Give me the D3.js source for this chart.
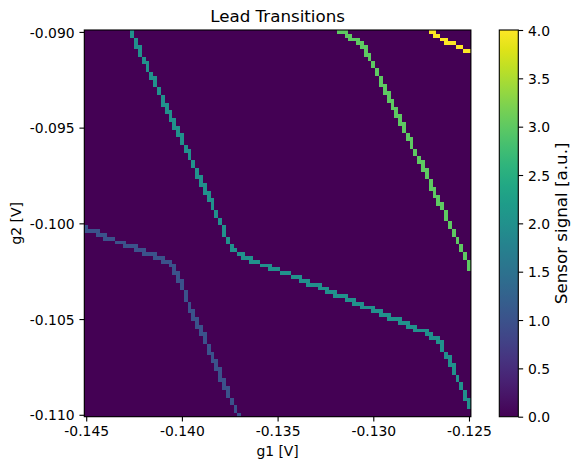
<!DOCTYPE html>
<html>
<head>
<meta charset="utf-8">
<script src="https://cdn.jsdelivr.net/npm/d3@7"></script>
<style>
  body { margin: 0; background: #fff; }
  text { font-family: "DejaVu Sans", sans-serif; fill: #000; }
</style>
</head>
<body>
<div id="chart"></div>
<script>
var w = 580,
    h = 470;

// gate sweep: 101 x 101 points, 0.2 mV steps
var g1Start = -0.145,
    g2Start = -0.090,   // top row
    step = 0.0002,
    nSteps = 101;

var xTicks = [-0.145, -0.140, -0.135, -0.130, -0.125];
var yTicks = [-0.090, -0.095, -0.100, -0.105, -0.110];
var cbTicks = [0, 0.5, 1, 1.5, 2, 2.5, 3, 3.5, 4];
var levels = [1, 2, 3, 4];

// transition lines, as runs of pixels:
// [g1 step first, g1 step last, g2 step first, g2 step last]
// g1 steps counted from -0.145, g2 steps counted down from -0.090
var line1Runs = [
    [0, 0, 51, 51], [0, 3, 52, 52], [3, 5, 53, 53], [5, 7, 54, 54], [8, 10, 55, 55],
    [10, 13, 56, 56], [13, 15, 57, 57], [15, 18, 58, 58], [18, 20, 59, 59], [20, 22, 60, 60],
    [22, 23, 61, 61], [23, 23, 62, 63], [24, 24, 63, 65], [25, 25, 65, 67], [26, 26, 68, 70],
    [27, 27, 71, 73], [28, 28, 73, 75], [29, 29, 75, 77], [30, 30, 77, 79], [31, 31, 79, 81],
    [32, 32, 82, 84], [33, 33, 84, 86], [34, 34, 86, 88], [35, 35, 88, 91], [36, 36, 91, 93],
    [37, 37, 93, 95], [38, 38, 96, 97], [39, 39, 98, 99], [40, 40, 100, 100]
];
var line2Runs = [
    [12, 12, 0, 1], [13, 13, 2, 4], [14, 14, 4, 6], [15, 15, 7, 8], [16, 16, 8, 10],
    [17, 17, 11, 12], [18, 18, 12, 14], [19, 19, 15, 16], [20, 20, 17, 19], [21, 21, 19, 21],
    [22, 22, 21, 23], [23, 23, 23, 25], [24, 24, 25, 27], [25, 25, 27, 29], [26, 26, 30, 31],
    [27, 27, 31, 33], [28, 28, 34, 35], [29, 29, 36, 38], [30, 30, 38, 40], [31, 31, 40, 42],
    [32, 32, 42, 44], [33, 33, 44, 46], [34, 34, 47, 48], [35, 35, 49, 50], [36, 36, 51, 53],
    [37, 37, 54, 55], [38, 38, 56, 57], [39, 39, 57, 57],
    [40, 41, 58, 58], [41, 43, 59, 59], [43, 45, 60, 60], [46, 48, 61, 61], [48, 50, 62, 62],
    [51, 53, 63, 63], [54, 56, 64, 64], [56, 58, 65, 65], [58, 61, 66, 66], [61, 63, 67, 67],
    [63, 65, 68, 68], [65, 68, 69, 69], [68, 70, 70, 70], [70, 72, 71, 71], [72, 75, 72, 72],
    [75, 77, 73, 73], [77, 79, 74, 74], [79, 82, 75, 75], [82, 84, 76, 76], [84, 86, 77, 77],
    [86, 89, 78, 78], [89, 90, 79, 79], [90, 92, 80, 80], [92, 93, 81, 81],
    [93, 93, 82, 83], [94, 94, 84, 85], [95, 95, 85, 87], [96, 96, 87, 89], [97, 97, 90, 91],
    [98, 98, 92, 93], [99, 99, 94, 96], [100, 100, 96, 98]
];
var line3Runs = [
    [66, 68, 0, 0], [68, 69, 1, 1], [69, 71, 2, 2], [71, 72, 3, 3], [72, 73, 4, 4],
    [73, 73, 5, 6], [74, 74, 6, 7], [75, 75, 8, 9], [76, 76, 10, 11], [77, 77, 12, 14],
    [78, 78, 14, 16], [79, 79, 16, 18], [80, 80, 18, 20], [81, 81, 20, 22], [82, 82, 22, 24],
    [83, 83, 24, 26], [84, 84, 27, 28], [85, 85, 28, 30], [86, 86, 31, 32], [87, 87, 33, 34],
    [88, 88, 34, 36], [89, 89, 36, 38], [90, 90, 39, 41], [91, 91, 41, 43], [92, 92, 43, 45],
    [93, 93, 45, 46], [94, 94, 47, 49], [95, 95, 50, 51], [96, 96, 52, 53], [97, 97, 54, 55],
    [98, 98, 56, 57], [99, 99, 58, 59], [100, 100, 60, 62]
];
var line4Runs = [
    [90, 91, 0, 0], [91, 92, 1, 1], [93, 94, 2, 2], [94, 96, 3, 3], [97, 98, 4, 4], [99, 100, 5, 5]
];
var lineRuns = [line1Runs, line2Runs, line3Runs, line4Runs];

// build the full sensor map (0 everywhere except on the transitions)
var cells = [];
for (var r = 0; r < nSteps; r++) {
    for (var c = 0; c < nSteps; c++) {
        cells.push({ i: c, j: r, v: 0 });
    }
}
lineRuns.forEach(function(runs, k) {
    runs.forEach(function(run) {
        for (var j = run[2]; j <= run[3]; j++) {
            for (var i = run[0]; i <= run[1]; i++) {
                cells[j * nSteps + i].v = levels[k];
            }
        }
    });
});

var margin = { left: 84.3, top: 30, right: 470.9, bottom: 416.7 };

var x = d3.scaleLinear()
    .domain([g1Start - step / 2, g1Start + (nSteps - 1) * step + step / 2])
    .range([margin.left, margin.right]);
var y = d3.scaleLinear()
    .domain([g2Start - (nSteps - 1) * step - step / 2, g2Start + step / 2])
    .range([margin.bottom, margin.top]);
var color = d3.scaleSequential(d3.interpolateViridis).domain([0, 4]);

var svg = d3.select("#chart").append("svg")
    .attr("width", w)
    .attr("height", h);

svg.append("g")
    .attr("shape-rendering", "crispEdges")
    .selectAll("rect")
    .data(cells)
    .enter().append("rect")
    .attr("x", function(d) { return x(g1Start + d.i * step - step / 2); })
    .attr("y", function(d) { return y(g2Start - d.j * step + step / 2); })
    .attr("width", function(d) { return x(g1Start + d.i * step + step / 2) - x(g1Start + d.i * step - step / 2); })
    .attr("height", function(d) { return y(g2Start - d.j * step - step / 2) - y(g2Start - d.j * step + step / 2); })
    .style("fill", function(d) { return color(d.v); });

// axes
var tickLen = 4.86, fs = 13.9;
var xAxis = svg.append("g")
    .attr("transform", "translate(0," + margin.bottom + ")")
    .call(d3.axisBottom(x).tickValues(xTicks).tickSize(tickLen).tickPadding(tickLen)
        .tickFormat(function(d) { return d.toFixed(3); }));
var yAxis = svg.append("g")
    .attr("transform", "translate(" + margin.left + ",0)")
    .call(d3.axisLeft(y).tickValues(yTicks).tickSize(tickLen).tickPadding(tickLen)
        .tickFormat(function(d) { return d.toFixed(3); }));
[xAxis, yAxis].forEach(function(a) {
    a.select(".domain").remove();
    a.selectAll("line").attr("stroke", "#000").attr("stroke-width", 1.1);
    a.selectAll("text").style("font-size", fs + "px").attr("fill", "#000");
});
yAxis.selectAll("text").attr("dy", "0.37em");

svg.append("rect")
    .attr("x", margin.left).attr("y", margin.top)
    .attr("width", margin.right - margin.left)
    .attr("height", margin.bottom - margin.top)
    .attr("fill", "none").attr("stroke", "#000").attr("stroke-width", 1.1);

svg.append("text")
    .attr("x", (margin.left + margin.right) / 2).attr("y", 21.7)
    .attr("text-anchor", "middle").style("font-size", "16.7px")
    .text("Lead Transitions");
svg.append("text")
    .attr("x", (margin.left + margin.right) / 2).attr("y", 456)
    .attr("text-anchor", "middle").style("font-size", fs + "px")
    .text("g1 [V]");
svg.append("text")
    .attr("transform", "translate(21," + (margin.top + margin.bottom) / 2 + ") rotate(-90)")
    .attr("text-anchor", "middle").style("font-size", fs + "px")
    .text("g2 [V]");

// colorbar
var cbX = 499.3, cbW = 19;
var cbScale = d3.scaleLinear().domain([0, 4]).range([margin.bottom, margin.top]);
var grad = svg.append("defs").append("linearGradient")
    .attr("id", "cbgrad")
    .attr("x1", 0).attr("y1", 1).attr("x2", 0).attr("y2", 0);
grad.selectAll("stop")
    .data(d3.range(0, 1.0001, 0.05))
    .enter().append("stop")
    .attr("offset", function(d) { return d; })
    .attr("stop-color", function(d) { return d3.interpolateViridis(d); });
svg.append("rect")
    .attr("x", cbX).attr("y", margin.top)
    .attr("width", cbW).attr("height", margin.bottom - margin.top)
    .attr("fill", "url(#cbgrad)")
    .attr("stroke", "#000").attr("stroke-width", 1.1);
var cbAxis = svg.append("g")
    .attr("transform", "translate(" + (cbX + cbW) + ",0)")
    .call(d3.axisRight(cbScale).tickValues(cbTicks).tickSize(tickLen).tickPadding(tickLen)
        .tickFormat(function(d) { return d.toFixed(1); }));
cbAxis.select(".domain").remove();
cbAxis.selectAll("line").attr("stroke", "#000").attr("stroke-width", 1.1);
cbAxis.selectAll("text").style("font-size", fs + "px").attr("fill", "#000").attr("dy", "0.37em");

svg.append("text")
    .attr("transform", "translate(566.7," + (margin.top + margin.bottom) / 2 + ") rotate(-90)")
    .attr("text-anchor", "middle").style("font-size", "16.7px")
    .text("Sensor signal [a.u.]");
</script>
</body>
</html>
